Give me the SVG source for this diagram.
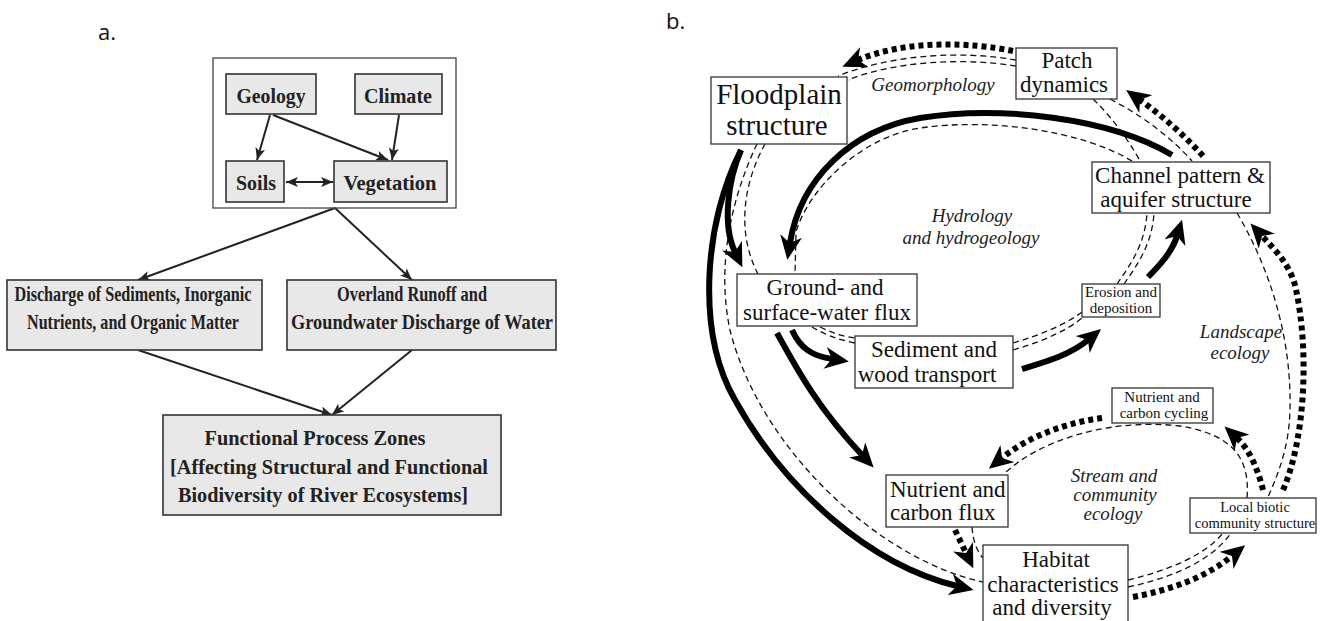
<svg xmlns="http://www.w3.org/2000/svg" width="1330" height="621" viewBox="0 0 1330 621">
<style>
.lbl{font-family:"Open Sans","DejaVu Sans",sans-serif;font-size:22px;fill:#111}
.abox{fill:#e8e8e8;stroke:#333;stroke-width:1.6}
.at{font-family:"Liberation Serif","Times New Roman",serif;font-weight:bold;font-size:22px;fill:#222;text-anchor:middle}
.al{fill:none;stroke:#222;stroke-width:2}
.bbox{fill:#fff;stroke:#333;stroke-width:1.3}
.bt{font-family:"Liberation Serif","Times New Roman",serif;fill:#111;text-anchor:middle}
.bs{font-family:"Liberation Serif","Times New Roman",serif;fill:#111;text-anchor:start}
.it{font-family:"Liberation Serif","Times New Roman",serif;font-style:italic;font-size:19px;fill:#222;text-anchor:middle}
.thick{fill:none;stroke:#000;stroke-width:6}
.dot{fill:none;stroke:#000;stroke-width:6;stroke-dasharray:5 4}
.dash{fill:none;stroke:#111;stroke-width:1.3;stroke-dasharray:6 4}
</style>
<defs>
<marker id="ah" viewBox="0 0 24 22" refX="7" refY="11" markerWidth="24" markerHeight="22" markerUnits="userSpaceOnUse" orient="auto"><path d="M0,0 L24,11 L0,22 L7,11 Z" fill="#000"/></marker>
<marker id="sa" viewBox="0 0 12 10" refX="12" refY="5" markerWidth="12" markerHeight="10" markerUnits="userSpaceOnUse" orient="auto-start-reverse"><path d="M0,0 L12,5 L0,10 L3,5 Z" fill="#222"/></marker>
</defs>
<rect width="1330" height="621" fill="#fff"/>
<text class="lbl" x="98" y="40">a.</text>
<text class="lbl" x="666" y="29">b.</text>

<!-- Panel a connectors -->
<g id="connectors-a">
<path class="al" d="M270,115 L257,160" marker-end="url(#sa)"/>
<path class="al" d="M273,115 L388,160" marker-end="url(#sa)"/>
<path class="al" d="M399,115 L392,160" marker-end="url(#sa)"/>
<path class="al" d="M286,182 L333,182" marker-start="url(#sa)" marker-end="url(#sa)"/>
<path class="al" d="M335,208 L138,280" marker-end="url(#sa)"/>
<path class="al" d="M335,208 L412,280" marker-end="url(#sa)"/>
<path class="al" d="M138,350 L332,415" marker-end="url(#sa)"/>
<path class="al" d="M412,350 L332,415" marker-end="url(#sa)"/>
</g>

<g id="a-frame"><rect x="213" y="58" width="243" height="150" fill="none" stroke="#444" stroke-width="1.3"/></g>
<g id="a-geology"><rect class="abox" x="226" y="74" width="90" height="40"/><text class="at" x="271" y="103" textLength="69" lengthAdjust="spacingAndGlyphs">Geology</text></g>
<g id="a-climate"><rect class="abox" x="355" y="74" width="87" height="40"/><text class="at" x="398" y="103" textLength="68" lengthAdjust="spacingAndGlyphs">Climate</text></g>
<g id="a-soils"><rect class="abox" x="226" y="161" width="58" height="41"/><text class="at" x="256" y="190" textLength="40" lengthAdjust="spacingAndGlyphs">Soils</text></g>
<g id="a-vegetation"><rect class="abox" x="334" y="161" width="113" height="41"/><text class="at" x="390" y="190" textLength="93" lengthAdjust="spacingAndGlyphs">Vegetation</text></g>
<g id="a-discharge"><rect class="abox" x="7" y="280" width="255" height="70"/>
<text class="at" x="133" y="301" textLength="237" lengthAdjust="spacingAndGlyphs">Discharge of Sediments, Inorganic</text>
<text class="at" x="133" y="329" textLength="212" lengthAdjust="spacingAndGlyphs">Nutrients, and Organic Matter</text></g>
<g id="a-overland"><rect class="abox" x="287" y="280" width="269" height="70"/>
<text class="at" x="412" y="301" textLength="150" lengthAdjust="spacingAndGlyphs">Overland Runoff and</text>
<text class="at" x="422" y="329" textLength="262" lengthAdjust="spacingAndGlyphs">Groundwater Discharge of Water</text></g>
<g id="a-fpz"><rect class="abox" x="163" y="415" width="338" height="100"/>
<text class="at" x="315" y="445" textLength="221" lengthAdjust="spacingAndGlyphs">Functional Process Zones</text>
<text class="at" x="329" y="474" textLength="318" lengthAdjust="spacingAndGlyphs">[Affecting Structural and Functional</text>
<text class="at" x="323" y="502" textLength="290" lengthAdjust="spacingAndGlyphs">Biodiversity of River Ecosystems]</text></g>

<!-- Panel b connectors -->
<g id="connectors-b">
<!-- geomorphology -->
<path class="dot" d="M1013,51 C970,42 905,40 858,60" marker-end="url(#ah)"/>
<path class="dash" d="M1016,60 C960,50 890,55 838,76"/>
<path class="dash" d="M1016,66 C960,57 893,62 848,80"/>
<path class="dot" d="M1203,156 Q1175,125 1140,100" marker-end="url(#ah)"/>
<path class="dash" d="M1093,99 Q1120,125 1140,161"/>
<path class="dash" d="M1110,99 Q1160,125 1192,161"/>
<!-- hydrology -->
<path class="thick" d="M1172,155 C1110,118 1000,105 920,118 C850,130 800,180 790,243" marker-end="url(#ah)"/>
<path class="dash" d="M1132,161 C1080,130 990,118 920,128 C860,137 808,190 796,232 L795,275"/>
<path class="thick" d="M741,150 C728,180 722,225 735,252" marker-end="url(#ah)"/>
<path class="thick" d="M741,150 C705,220 695,330 735,400 C785,490 870,565 957,586" marker-end="url(#ah)"/>
<path class="dash" d="M757,144 C735,190 715,260 730,330 C760,450 880,560 983,582"/>
<path class="dash" d="M765,144 C745,180 735,230 758,274"/>
<path class="thick" d="M777,333 C800,375 820,410 862,455" marker-end="url(#ah)"/>
<path class="thick" d="M792,330 C800,348 812,356 832,359" marker-end="url(#ah)"/>
<path class="dash" d="M812,327 Q830,338 855,343"/>
<path class="dash" d="M820,327 Q838,336 855,338"/>
<path class="dash" d="M1013,343 C1040,335 1065,325 1082,312"/>
<path class="dash" d="M1013,350 C1040,342 1065,332 1082,318"/>
<path class="thick" d="M1022,369 C1045,362 1070,355 1088,340" marker-end="url(#ah)"/>
<path class="thick" d="M1148,277 C1160,265 1172,252 1177,236" marker-end="url(#ah)"/>
<path class="dash" d="M1117,284 C1130,265 1145,245 1147,213"/>
<path class="dash" d="M1124,284 C1137,265 1152,245 1154,213"/>
<!-- landscape ecology -->
<path class="dot" d="M1283,490 C1305,440 1310,350 1295,285 C1288,262 1275,250 1262,236" marker-end="url(#ah)"/>
<path class="dash" d="M1237,213 C1265,260 1292,330 1290,410 C1289,445 1280,470 1268,497"/>
<!-- stream and community ecology -->
<path class="dot" d="M1102,418 C1070,422 1030,435 1002,458" marker-end="url(#ah)"/>
<path class="dash" d="M1247,498 C1250,460 1235,435 1180,426 C1110,418 1040,440 1005,473"/>
<path class="dot" d="M1263,490 C1258,470 1250,450 1237,438" marker-end="url(#ah)"/>
<path class="dot" d="M1133,597 C1170,590 1205,578 1232,556" marker-end="url(#ah)"/>
<path class="dash" d="M1128,580 C1170,570 1205,555 1223,533"/>
<path class="dash" d="M1128,587 C1175,577 1212,560 1231,533"/>
<path class="dot" d="M955,530 L966,553" marker-end="url(#ah)"/>
<path class="dash" d="M972,527 C973,540 976,550 983,558"/>
</g>

<text class="it" x="933" y="91">Geomorphology</text>
<text class="it" x="972" y="222">Hydrology</text>
<text class="it" x="971" y="244">and hydrogeology</text>
<text class="it" x="1241" y="338">Landscape</text>
<text class="it" x="1240" y="359">ecology</text>
<text class="it" x="1114" y="482">Stream and</text>
<text class="it" x="1115" y="501">community</text>
<text class="it" x="1113" y="520">ecology</text>

<g id="floodplain"><rect class="bbox" x="711" y="77" width="136" height="67"/>
<text class="bt" x="779" y="104" font-size="29">Floodplain</text>
<text class="bt" x="777" y="135" font-size="29">structure</text></g>
<g id="patch"><rect class="bbox" x="1016" y="48" width="101" height="51"/>
<text class="bt" x="1067" y="68" font-size="23">Patch</text>
<text class="bt" x="1064" y="92" font-size="23">dynamics</text></g>
<g id="channel"><rect class="bbox" x="1092" y="162" width="178" height="51"/>
<text class="bt" x="1180" y="183" font-size="23">Channel pattern &amp;</text>
<text class="bt" x="1176" y="207" font-size="23">aquifer structure</text></g>
<g id="groundflux"><rect class="bbox" x="737" y="274" width="180" height="52"/>
<text class="bt" x="825" y="295" font-size="23">Ground- and</text>
<text class="bt" x="827" y="320" font-size="23">surface-water flux</text></g>
<g id="sediment"><rect class="bbox" x="855" y="336" width="158" height="52"/>
<text class="bt" x="934" y="357" font-size="23">Sediment and</text>
<text class="bt" x="927" y="382" font-size="23">wood transport</text></g>
<g id="erosion"><rect class="bbox" x="1082" y="284" width="78" height="33"/>
<text class="bt" x="1121" y="297" font-size="15">Erosion and</text>
<text class="bt" x="1121" y="313" font-size="15">deposition</text></g>
<g id="nutcycling"><rect class="bbox" x="1112" y="388" width="101" height="35"/>
<text class="bt" x="1162" y="402" font-size="15">Nutrient and</text>
<text class="bt" x="1164" y="418" font-size="15">carbon  cycling</text></g>
<g id="localbiotic"><rect class="bbox" x="1190" y="498" width="126" height="35"/>
<text class="bt" x="1255" y="512" font-size="14.5">Local biotic</text>
<text class="bt" x="1255" y="528" font-size="14.5">community structure</text></g>
<g id="nutflux"><rect class="bbox" x="886" y="475" width="122" height="52"/>
<text class="bs" x="890" y="497" font-size="23">Nutrient and</text>
<text class="bs" x="890" y="520" font-size="23">carbon flux</text></g>
<g id="habitat"><rect class="bbox" x="983" y="545" width="145" height="80"/>
<text class="bt" x="1056" y="567" font-size="23">Habitat</text>
<text class="bt" x="1053" y="592" font-size="23">characteristics</text>
<text class="bt" x="1052" y="615" font-size="23">and diversity</text></g>
</svg>
